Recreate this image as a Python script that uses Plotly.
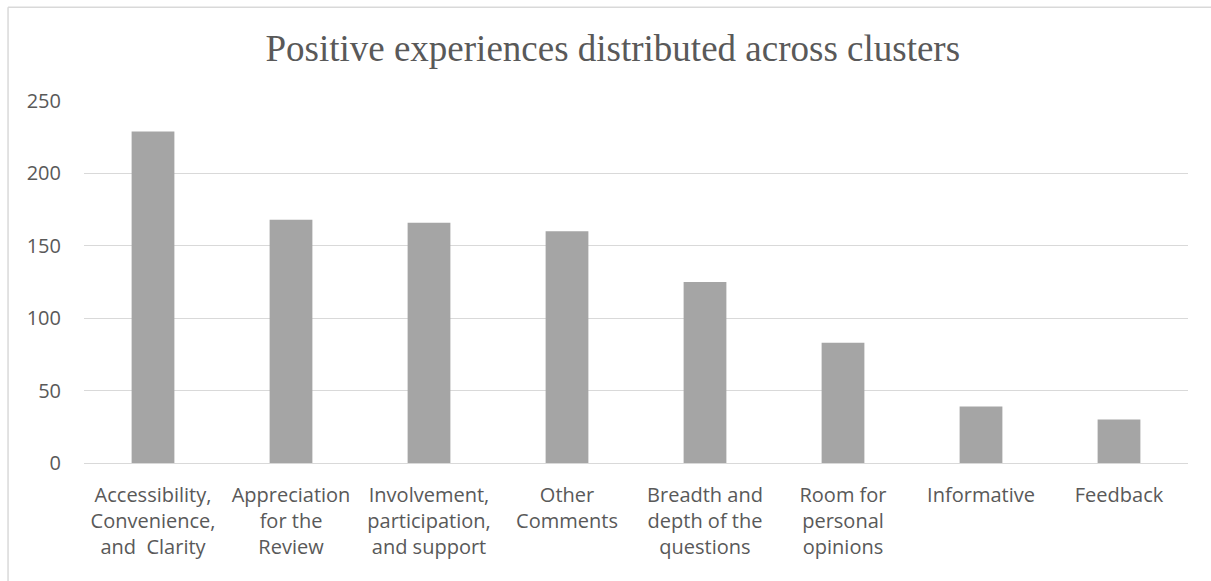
import plotly.graph_objects as go

categories = [
    "Accessibility,<br>Convenience,<br>and\u00a0 Clarity",
    "Appreciation<br>for the<br>Review",
    "Involvement,<br>participation,<br>and support",
    "Other<br>Comments",
    "Breadth and<br>depth of the<br>questions",
    "Room for<br>personal<br>opinions",
    "Informative",
    "Feedback",
]
values = [229, 168, 166, 160, 125, 83, 39, 30]
y_ticks = [0, 50, 100, 150, 200, 250]

TXT = "#595959"
GRID = "#d9d9d9"
FONT = "Open Sans"
FS = 20

fig = go.Figure(go.Bar(x=categories, y=values, marker=dict(color="#a5a5a5", line=dict(width=0))))

fig.update_layout(
    width=1211, height=581,
    margin=dict(l=84, r=23, t=101, b=117.5),
    paper_bgcolor="white", plot_bgcolor="white",
    bargap=0.69,
    showlegend=False,
    title=dict(text="Positive experiences distributed across clusters",
               x=0.506, xanchor="center", y=1 - 48 / 581, yanchor="middle",
               font=dict(family="Liberation Serif", size=37, color=TXT)),
    font=dict(family=FONT, size=FS, color=TXT),
)
fig.update_xaxes(showgrid=False, showline=True, linecolor=GRID, linewidth=1,
                 ticks="", ticklabelstandoff=14, tickfont=dict(family=FONT, size=FS, color=TXT),
                 fixedrange=True)
fig.update_yaxes(range=[0, 250], tickvals=y_ticks, showgrid=True, gridcolor=GRID, gridwidth=1,
                 zeroline=False, showline=False, ticks="", ticklabelstandoff=22,
                 tickfont=dict(family=FONT, size=FS, color=TXT), fixedrange=True)

# chart-area border (partially visible, as in the reference)
fig.add_shape(type="line", xref="paper", yref="paper", x0=-0.0688, x1=-0.0688, y0=1.2593, y1=-0.33,
              line=dict(color=GRID, width=1.5))
fig.add_shape(type="line", xref="paper", yref="paper", x0=-0.0688, x1=1.03, y0=1.2593, y1=1.2593,
              line=dict(color=GRID, width=1.5))

fig.write_html("out.html")
